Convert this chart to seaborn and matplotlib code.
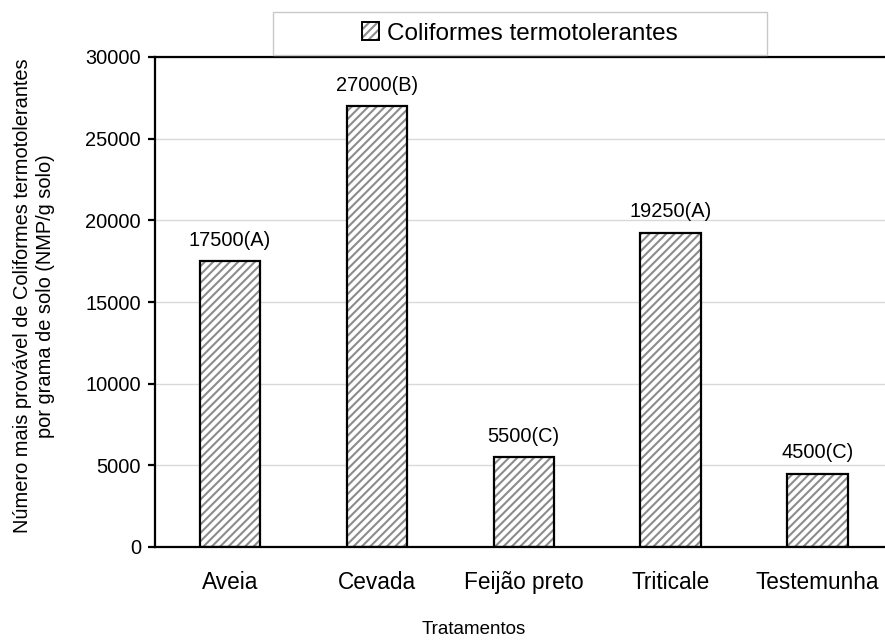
import matplotlib
matplotlib.use("Agg")
import matplotlib.pyplot as plt
import matplotlib.patches as mpatches
from matplotlib.legend_handler import HandlerTuple
import seaborn as sns
import pandas as pd

categories = ["Aveia", "Cevada", "Feijão preto", "Triticale", "Testemunha"]
values = [17500, 27000, 5500, 19250, 4500]
letters = ["A", "B", "C", "A", "C"]
yticks = [0, 5000, 10000, 15000, 20000, 25000, 30000]
series_name = "Coliformes termotolerantes"
ylabel = "Número mais provável de Coliformes termotolerantes\npor grama de solo (NMP/g solo)"
xlabel = "Tratamentos"

sns.set_style("white")
plt.rcParams["font.family"] = ["Liberation Sans", "DejaVu Sans"]
plt.rcParams["hatch.linewidth"] = 1.5
plt.rcParams["text.color"] = "black"
plt.rcParams["axes.labelcolor"] = "black"
plt.rcParams["xtick.color"] = "black"
plt.rcParams["ytick.color"] = "black"

df = pd.DataFrame({"cat": categories, "val": values})

W, H = 885, 641
fig = plt.figure(figsize=(W / 100, H / 100), dpi=100)
ax = fig.add_axes([155 / W, 1 - 547 / H, 1 - 155 / W, (547 - 57) / H])

hatch_col = "#8c8c8c"
sns.barplot(data=df, x="cat", y="val", color="white", saturation=1, width=0.41,
            edgecolor=hatch_col, linewidth=0, hatch="////", ax=ax, zorder=2)
sns.barplot(data=df, x="cat", y="val", fill=False, color="black", width=0.41,
            linewidth=1.6, ax=ax, zorder=3)

labels = [f"{v}({l})" for v, l in zip(values, letters)]
ax.bar_label(ax.containers[1], labels=labels, padding=8, fontsize=14.4, color="black")

ax.set_xlim(-0.51, 4.46)
ax.set_ylim(0, 30000)
ax.set_yticks(yticks)
ax.set_yticklabels([str(t) for t in yticks])
ax.yaxis.grid(True, color="#d9d9d9", lw=1)
ax.set_axisbelow(True)
ax.set_xlabel("")
ax.set_ylabel("")

for s in ["left", "bottom", "top"]:
    ax.spines[s].set_color("black")
    ax.spines[s].set_linewidth(1.6)
ax.spines["right"].set_visible(False)

ax.tick_params(axis="y", which="both", left=True, length=5, width=1.6,
               direction="out", pad=5, labelsize=14.4, colors="black")
ax.tick_params(axis="x", length=0, pad=17, labelsize=16.3, colors="black")

fig.text(34 / W, 1 - 296 / H, ylabel, rotation=90, ha="center", va="center",
         multialignment="center", fontsize=14.4, linespacing=1.3, color="black")
fig.text(474 / W, 1 - 630 / H, xlabel, ha="center", va="center", fontsize=13.5,
         color="black")

# legend box
box = mpatches.Rectangle((273 / W, 1 - 55 / H), 494 / W, 43 / H, transform=fig.transFigure,
                         facecolor="white", edgecolor="#c8c8c8", lw=1, zorder=5)
fig.patches.append(box)
h1 = mpatches.Patch(facecolor="white", edgecolor=hatch_col, hatch="////", lw=0)
h2 = mpatches.Patch(facecolor="none", edgecolor="black", lw=1.4)
leg = fig.legend(handles=[(h1, h2)], labels=[series_name],
                 handler_map={tuple: HandlerTuple(ndivide=1)},
                 loc="center", bbox_to_anchor=(520 / W, 1 - 33.5 / H),
                 frameon=False, fontsize=17.5, handlelength=0.7, handleheight=0.7,
                 handletextpad=0.3, borderaxespad=0, labelcolor="black")
leg.set_zorder(6)

fig.savefig("out.png", dpi=100)
